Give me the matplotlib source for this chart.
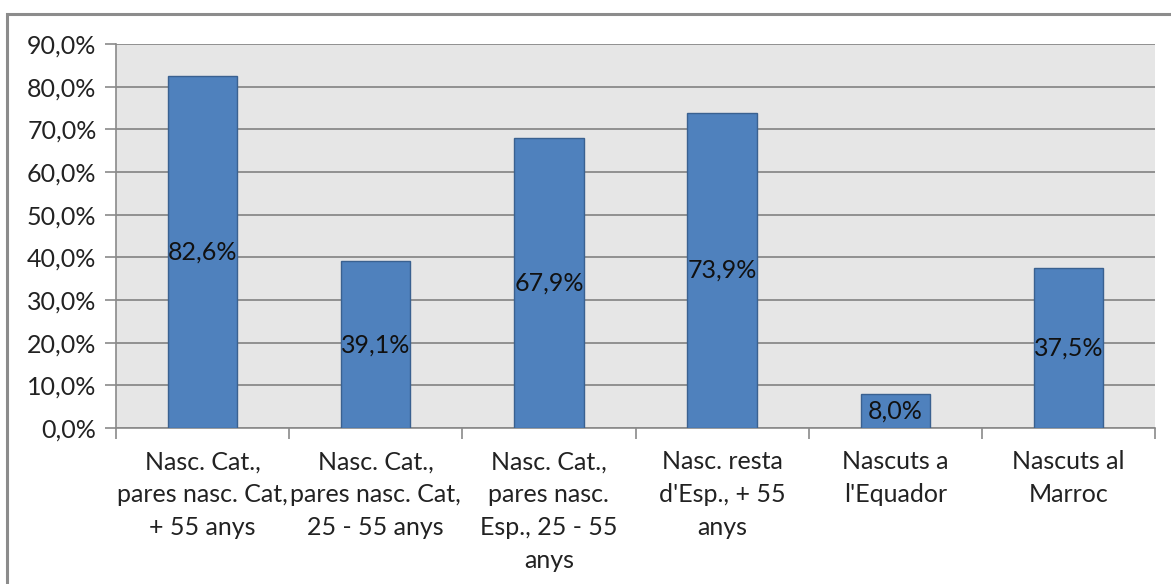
import numpy as np
import matplotlib
matplotlib.use("Agg")
import matplotlib.pyplot as plt
from matplotlib.patches import Rectangle
from matplotlib.ticker import FuncFormatter, FixedLocator

categories = [
    "Nasc. Cat.,\npares nasc. Cat,\n+ 55 anys",
    "Nasc. Cat.,\npares nasc. Cat,\n25 - 55 anys",
    "Nasc. Cat.,\npares nasc.\nEsp., 25 - 55\nanys",
    "Nasc. resta\nd'Esp., + 55\nanys",
    "Nascuts a\nl'Equador",
    "Nascuts al\nMarroc",
]
values = [82.6, 39.1, 67.9, 73.9, 8.0, 37.5]

plt.rcParams["font.family"] = ["Lato", "DejaVu Sans"]

fig = plt.figure(figsize=(11.71, 5.84), dpi=100)
fig.patch.set_facecolor("white")

# outer chart frame (cropped at right and bottom)
fig.patches.append(Rectangle((7 / 1171, -0.1), 1.2, (584 - 14) / 584 + 0.1,
                             transform=fig.transFigure, fill=False,
                             edgecolor="#8c8c8c", linewidth=2.2))

ax = fig.add_axes([116 / 1171, 1 - 428 / 584, (1155 - 116) / 1171, (428 - 44) / 584])
ax.set_facecolor("#e6e6e6")

x = np.arange(len(values))
bars = ax.bar(x, values, width=0.4, color="#4f81bd", edgecolor="#3a6190", linewidth=1, zorder=3)

for b, v in zip(bars, values):
    ax.text(b.get_x() + b.get_width() / 2, v / 2, ("%.1f%%" % v).replace(".", ","),
            ha="center", va="center", fontsize=18, color="#111111", zorder=4)

ax.set_xlim(-0.5, len(values) - 0.5)
ax.set_ylim(0, 90)
ax.set_yticks(np.arange(0, 91, 10))
ax.yaxis.set_major_formatter(FuncFormatter(lambda v, p: ("%.1f%%" % v).replace(".", ",")))
ax.yaxis.grid(True, color="#8a8a8a", linewidth=1.3, zorder=1)
ax.set_axisbelow(True)

ax.set_xticks(x)
ax.set_xticklabels(categories, fontsize=18, linespacing=1.53, va="top", color="#222222")
ax.tick_params(axis="x", length=0, pad=16)
ax.xaxis.set_minor_locator(FixedLocator(np.arange(-0.5, len(values), 1)))
ax.tick_params(axis="x", which="minor", length=8, color="#8a8a8a", width=1.2)
ax.tick_params(axis="y", length=8, color="#8a8a8a", width=1.2, labelsize=18, pad=6,
               labelcolor="#222222")

for s in ["top", "right"]:
    ax.spines[s].set_visible(False)
for s in ["left", "bottom"]:
    ax.spines[s].set_color("#8a8a8a")
    ax.spines[s].set_linewidth(1.2)

fig.savefig("out.png", dpi=100)
